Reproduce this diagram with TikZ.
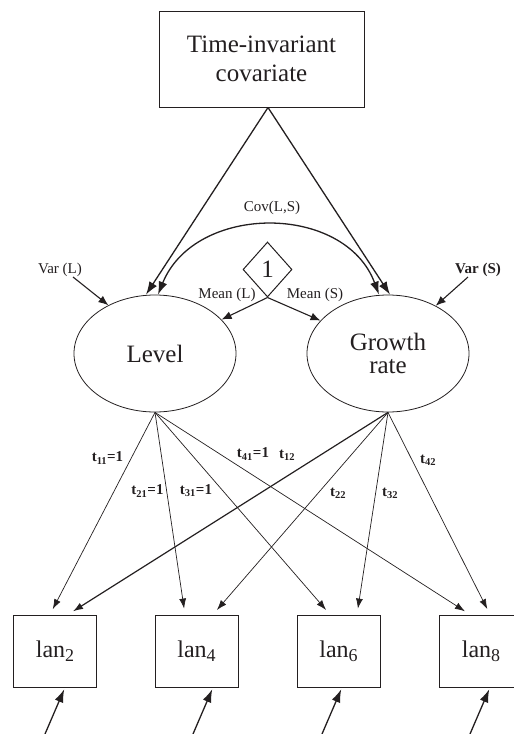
\documentclass[tikz,border=0pt]{standalone}
\usepackage{fontspec}
\setmainfont{Liberation Serif}
\usepackage{xcolor}
\usepackage{tikz}
\usetikzlibrary{arrows.meta,shapes.geometric}
\definecolor{SEMInk}{HTML}{231F20}
\newcommand{\lanwave}[1]{lan\raisebox{-4pt}{\fontsize{18}{18}\selectfont #1}}

\begin{document}
\begin{tikzpicture}[x=1pt,y=-1pt,
  every node/.style={text=SEMInk},
  latent/.style={draw=SEMInk,ellipse,line width=0.8pt,minimum width=162pt,minimum height=117pt,inner sep=0pt,align=center,font=\fontsize{25}{23}\selectfont},
  manifest/.style={draw=SEMInk,rectangle,line width=1pt,minimum width=83pt,minimum height=72pt,inner sep=0pt,font=\fontsize{24}{26}\selectfont},
  regarrow/.style={draw=SEMInk,line width=1.3pt,-{Latex[length=13pt,width=9pt]}},
  smallarrow/.style={draw=SEMInk,line width=1.1pt,-{Latex[length=10pt,width=8pt]}},
  loadarrow/.style={draw=SEMInk,line width=0.7pt,-{Latex[length=10pt,width=7pt]},shorten >=6pt},
  smalllabel/.style={font=\fontsize{15}{17}\selectfont,inner sep=0pt},
  coeflabel/.style={font=\bfseries\fontsize{15}{17}\selectfont,inner sep=0pt}]
\path[use as bounding box] (0,0) rectangle (514,734);
% covariate and growth factors
\node[draw=SEMInk,line width=1pt,minimum width=205pt,minimum height=96pt,align=center,font=\fontsize{25}{29}\selectfont] (covar) at (261.5,59) {Time-invariant\\covariate};
\node[latent] (level) at (155,353.5) {Level};
\node[latent] (growth) at (388,353.5) {Growth\\rate};
\node[diamond,draw=SEMInk,line width=1pt,minimum width=49pt,minimum height=55pt,inner sep=0pt,font=\fontsize{25}{25}\selectfont] (one) at (267.5,269.5) {1};
\node[smalllabel] (cov) at (272,208) {Cov(L,S)};
\node[smalllabel] (varl) at (60,270) {Var (L)};
\node[smalllabel,font=\bfseries\fontsize{15}{17}\selectfont] (vars) at (478,270) {Var (S)};
\node[smalllabel] (meanl) at (227,295) {Mean (L)};
\node[smalllabel] (means) at (315,295) {Mean (S)};
% observed measures
\node[manifest] (lan2) at (55,651) {\lanwave{2}};
\node[manifest] (lan4) at (196.5,651) {\lanwave{4}};
\node[manifest] (lan6) at (338.5,651) {\lanwave{6}};
\node[manifest] (lan8) at (481,651) {\lanwave{8}};
\coordinate (e2) at (45,734);
\coordinate (e4) at (193,734);
\coordinate (e6) at (322,734);
\coordinate (e8) at (470,734);
% structural paths
\draw[regarrow] ([xshift=6.5pt]covar.south) -- ([xshift=-9pt]level.north);
\draw[regarrow] ([xshift=6.5pt]covar.south) -- ([xshift=2pt]growth.north);
\draw[regarrow,{Latex[length=13pt,width=9pt]}-{Latex[length=13pt,width=9pt]}] ([xshift=3pt]level.north) .. controls (195,203) and (345,203) .. ([xshift=-9pt]growth.north);
\draw[smallarrow] (one.south) -- (level.27);
\draw[smallarrow] (one.south) -- (growth.154);
\draw[smallarrow] ([xshift=13pt]varl.south) -- (level.134);
\draw[smallarrow] ([xshift=-10pt]vars.south) -- (growth.45);
% loadings
\draw[loadarrow] (level.south) -- ([xshift=-5pt]lan2.north);
\draw[loadarrow] (level.south) -- ([xshift=-11.5pt]lan4.north);
\draw[loadarrow] (level.south) -- ([xshift=-8.5pt]lan6.north);
\draw[loadarrow] (level.south) -- ([xshift=-11pt]lan8.north);
\draw[loadarrow,line width=1.2pt] (growth.south) -- ([xshift=13pt]lan2.north);
\draw[loadarrow] (growth.south) -- ([xshift=16.5pt]lan4.north);
\draw[loadarrow] (growth.south) -- ([xshift=18.5pt]lan6.north);
\draw[loadarrow] (growth.south) -- ([xshift=9pt]lan8.north);
\node[coeflabel] (t11) at (107.5,458) {t\textsubscript{11}=1};
\node[coeflabel] (t21) at (147.5,491) {t\textsubscript{21}=1};
\node[coeflabel] (t31) at (196,491) {t\textsubscript{31}=1};
\node[coeflabel] (t41) at (253,454) {t\textsubscript{41}=1};
\node[coeflabel] (t12) at (287,455) {t\textsubscript{12}};
\node[coeflabel] (t22) at (338,493) {t\textsubscript{22}};
\node[coeflabel] (t32) at (390,493) {t\textsubscript{32}};
\node[coeflabel] (t42) at (428,460) {t\textsubscript{42}};
% residuals
\draw[regarrow,shorten >=2pt] (e2) -- ([xshift=10pt]lan2.south);
\draw[regarrow,shorten >=2pt] (e4) -- ([xshift=16.5pt]lan4.south);
\draw[regarrow,shorten >=2pt] (e6) -- ([xshift=3.5pt]lan6.south);
\draw[regarrow,shorten >=2pt] (e8) -- ([xshift=9pt]lan8.south);
\end{tikzpicture}
\end{document}
